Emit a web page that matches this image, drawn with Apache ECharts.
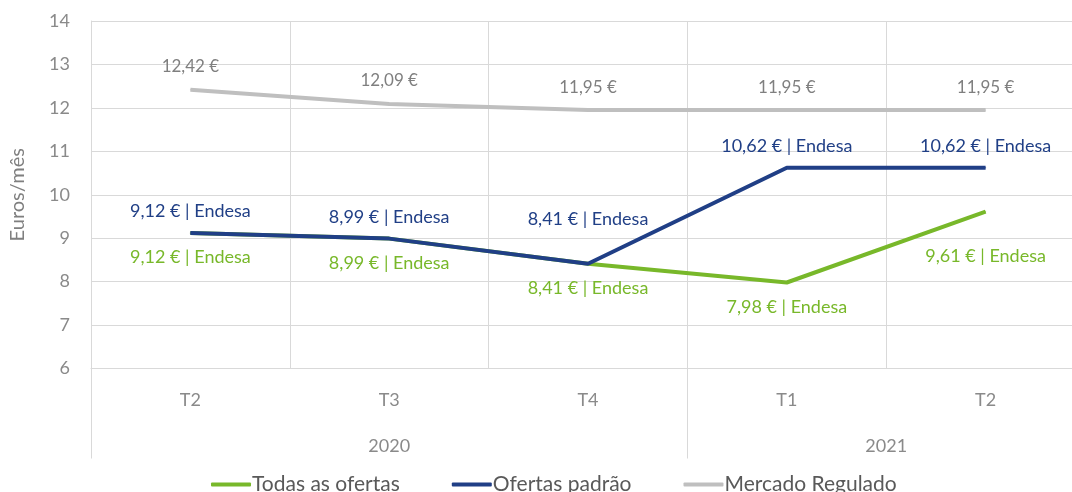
<!DOCTYPE html>
<html>
<head>
<meta charset="utf-8">
<script src="https://cdn.jsdelivr.net/npm/echarts@6/dist/echarts.min.js"></script>
<style>
html,body{margin:0;padding:0;background:#fff;}
#chart{width:1072px;height:492px;}
</style>
</head>
<body>
<div id="chart"></div>
<script>
const quarters = ['T2', 'T3', 'T4', 'T1', 'T2'];
const yearSlots = ['', '', '', '2020', '', '', '', '', '2021', '', ''];
const yearBoundaries = [0, 6, 10];
const todasOfertas = [9.12, 8.99, 8.41, 7.98, 9.61];
const ofertasPadrao = [9.12, 8.99, 8.41, 10.62, 10.62];
const mercadoRegulado = [12.42, 12.09, 11.95, 11.95, 11.95];
const supplier = 'Endesa';

const FONT = 'Lato';
const fmtNum = v => v.toFixed(2).replace('.', ',');

const GREEN = '#78b82a';
const BLUE = '#203f86';
const GRAY = '#bfbfbf';

function withLabel(arr, special) {
  return arr.map((v, i) => special[i] !== undefined ? { value: v, label: { distance: special[i] } } : { value: v });
}

const chart = echarts.init(document.getElementById('chart'));
chart.setOption({
  animation: false,
  textStyle: { fontFamily: FONT },
  grid: { left: 91, right: -13, top: 21, bottom: 123.5, containLabel: false, outerBoundsMode: 'none' },
  legend: {
    left: 206, top: 469,
    icon: 'roundRect', itemWidth: 40, itemHeight: 4, itemGap: 52,
    itemStyle: {},
    textStyle: { fontFamily: FONT, fontSize: 21, color: '#595959', padding: [0, 0, 0, -4] },
    data: ['Todas as ofertas', 'Ofertas padrão', 'Mercado Regulado']
  },
  xAxis: [
    {
      type: 'category', data: quarters, boundaryGap: true, position: 'bottom',
      axisLine: { show: true, lineStyle: { color: '#d9d9d9', width: 1 } },
      axisTick: { show: false },
      splitLine: { show: true, lineStyle: { color: '#d9d9d9', width: 1 } },
      axisLabel: { color: '#8a8a8a', fontSize: 18, fontFamily: FONT, margin: 23 }
    },
    {
      type: 'category', data: yearSlots, boundaryGap: false, position: 'bottom', offset: 0,
      axisLine: { show: false },
      axisTick: {
        show: true, length: 90, inside: false,
        interval: (idx) => yearBoundaries.indexOf(idx) >= 0,
        lineStyle: { color: '#d9d9d9', width: 1 }
      },
      splitLine: { show: false },
      axisLabel: { interval: 0, color: '#8a8a8a', fontSize: 18, fontFamily: FONT, margin: 69 }
    }
  ],
  yAxis: {
    type: 'value', min: 6, max: 14, interval: 1,
    name: 'Euros/mês', nameLocation: 'middle', nameGap: 63, nameRotate: 90,
    nameTextStyle: { color: '#7f7f7f', fontSize: 20, fontFamily: FONT },
    axisLine: { show: true, lineStyle: { color: '#d9d9d9', width: 1 } },
    axisTick: { show: false },
    splitLine: { show: true, lineStyle: { color: '#d9d9d9', width: 1 } },
    axisLabel: { color: '#8a8a8a', fontSize: 18, fontFamily: FONT, margin: 21 }
  },
  series: [
    {
      name: 'Todas as ofertas', type: 'line', xAxisIndex: 0,
      data: withLabel(todasOfertas, { 4: 35 }),
      symbol: 'circle', symbolSize: 1, showSymbol: true,
      itemStyle: { color: GREEN },
      lineStyle: { color: GREEN, width: 4 },
      label: {
        show: true, position: 'bottom', distance: 15, color: GREEN,
        fontSize: 18, fontFamily: FONT,
        formatter: p => fmtNum(p.value) + ' € | ' + supplier
      },
      z: 2
    },
    {
      name: 'Ofertas padrão', type: 'line', xAxisIndex: 0,
      data: withLabel(ofertasPadrao, { 2: 35 }),
      symbol: 'circle', symbolSize: 1, showSymbol: true,
      itemStyle: { color: BLUE },
      lineStyle: { color: BLUE, width: 4 },
      label: {
        show: true, position: 'top', distance: 12, color: BLUE,
        fontSize: 18, fontFamily: FONT,
        formatter: p => fmtNum(p.value) + ' € | ' + supplier
      },
      z: 3
    },
    {
      name: 'Mercado Regulado', type: 'line', xAxisIndex: 0,
      data: mercadoRegulado,
      symbol: 'circle', symbolSize: 1, showSymbol: true,
      itemStyle: { color: GRAY },
      lineStyle: { color: GRAY, width: 4 },
      label: {
        show: true, position: 'top', distance: 14, color: '#7f7f7f',
        fontSize: 17, fontFamily: FONT,
        formatter: p => fmtNum(p.value) + ' €'
      },
      z: 2
    }
  ]
});
</script>
</body>
</html>
